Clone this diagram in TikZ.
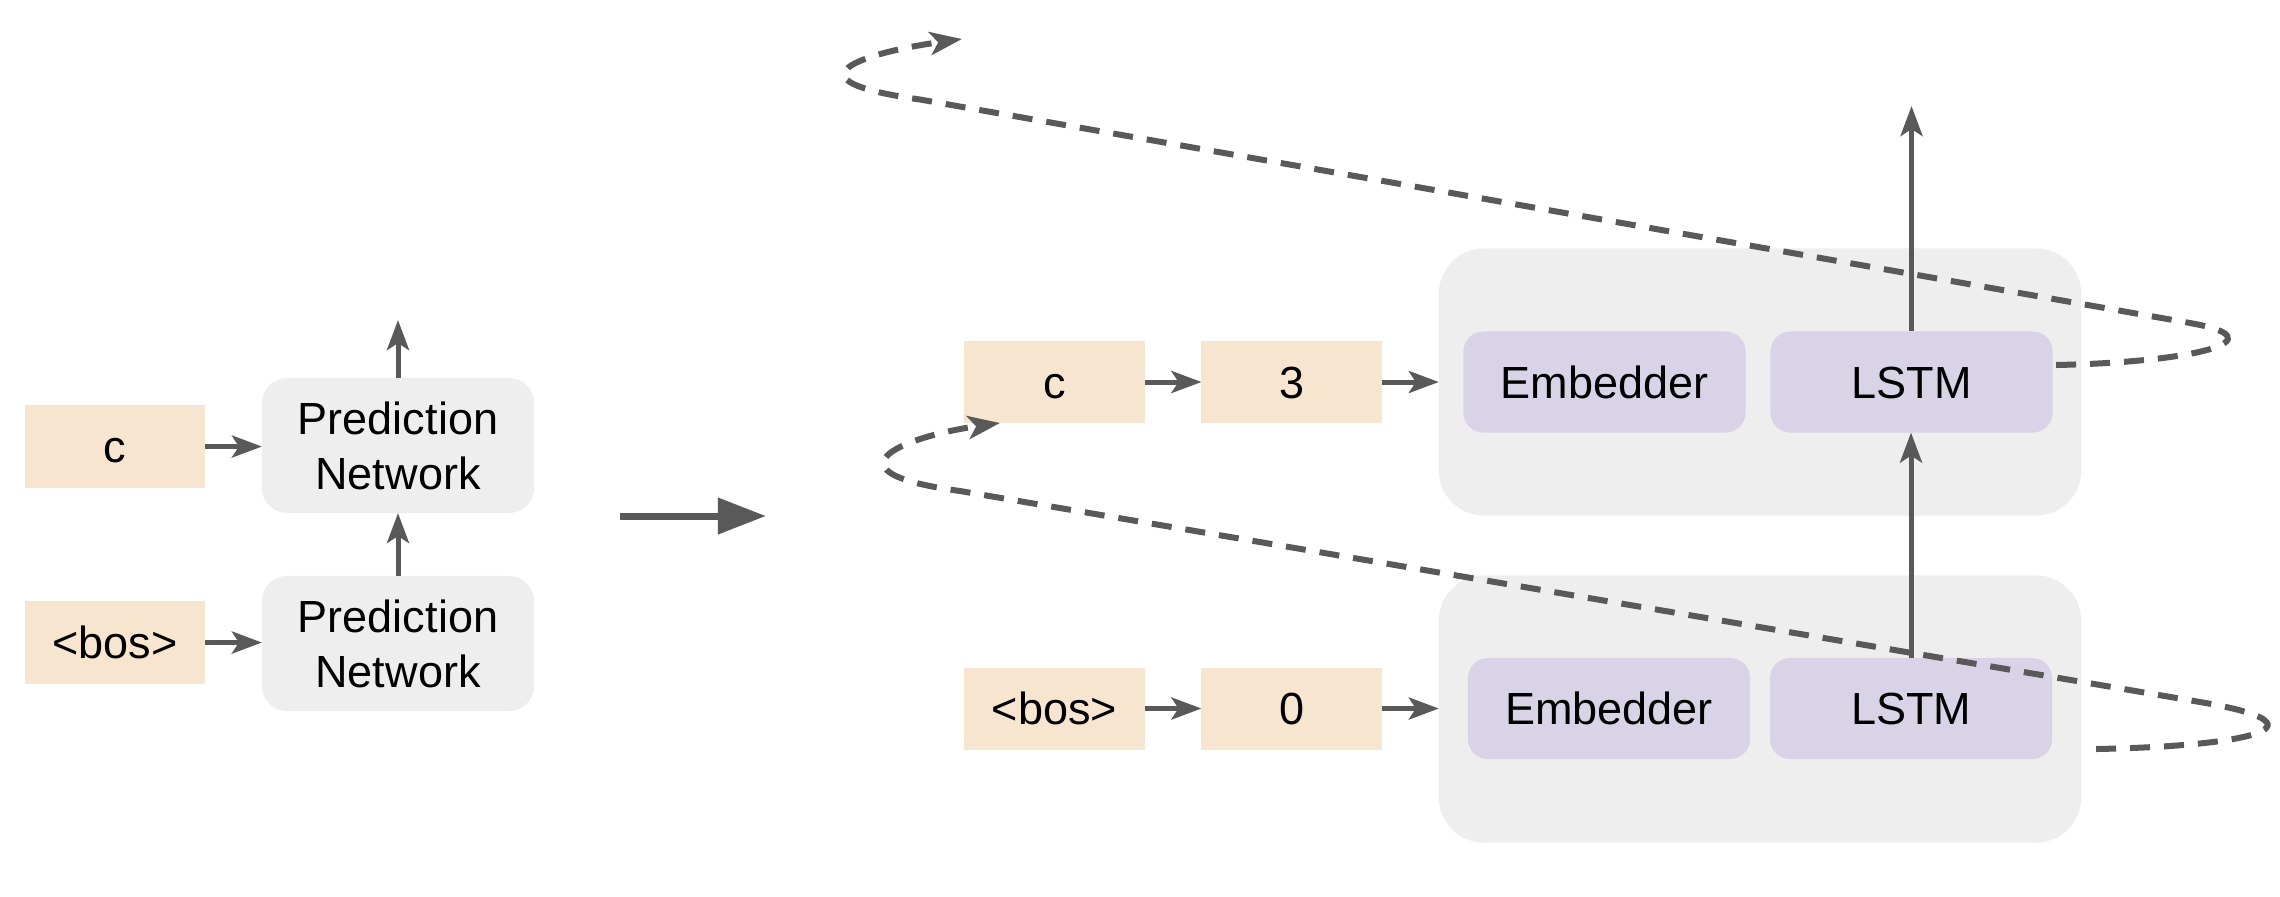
\documentclass[tikz,border=0pt]{standalone}
\usepackage{fontspec}
\setmainfont{Liberation Sans}
\usetikzlibrary{arrows.meta}
\definecolor{peach}{RGB}{248,229,208}
\definecolor{boxgray}{RGB}{238,238,238}
\definecolor{lilac}{RGB}{216,211,230}
\definecolor{linegray}{RGB}{89,89,89}
\newcommand{\twolines}[2]{\raisebox{-0.08cm}{\vbox{\baselineskip=0.55cm\lineskiplimit=-10cm\halign{\hfil##\hfil\cr#1\cr#2\cr}}}}
\begin{document}
\begin{tikzpicture}[x=0.01cm,y=-0.01cm,
 every node/.style={font=\fontsize{12.8}{15.7}\selectfont, inner sep=0pt, outer sep=0pt, text=black},
 token/.style={fill=peach, minimum width=1.8cm, minimum height=0.82cm, text height=0.32cm, text depth=0cm},
 pnbox/.style={fill=boxgray, rounded corners=0.25cm, minimum width=2.72cm, minimum height=1.35cm},
 container/.style={fill=boxgray, rounded corners=0.45cm, minimum width=6.42cm, minimum height=2.67cm},
 module/.style={fill=lilac, rounded corners=0.2cm, minimum width=2.82cm, minimum height=1.01cm, text height=0.32cm, text depth=0cm},
 conn/.style={draw=linegray, line width=0.05cm, -{Stealth[length=0.3cm,width=0.22cm,inset=0.07cm]}},
 loopline/.style={draw=linegray, line width=0.06cm, dash pattern=on 0.2cm off 0.14cm, -{Stealth[length=0.32cm,width=0.23cm,inset=0.08cm]}},
 bigarrow/.style={draw=linegray, line width=0.07cm, -{Triangle[length=0.48cm,width=0.35cm]}}]
\useasboundingbox (0,0) rectangle (2280,896);
% left part
\node[token] (lc) at (115,446.5) {c};
\node[token] (lbos) at (115,642.5) {<bos>};
\node[pnbox] (pn1) at (398,445.5) {\twolines{Prediction}{Network}};
\node[pnbox] (pn2) at (398,643.5) {\twolines{Prediction}{Network}};
\coordinate (pnout) at (398,320);
\draw[conn] (lc.east) -- (lc.east -| pn1.west);
\draw[conn] (lbos.east) -- (lbos.east -| pn2.west);
\draw[conn] (pn2) -- (pn1);
\draw[conn] (pn1) -- (pnout);
% big arrow
\coordinate (ba1) at (620,516);
\coordinate (ba2) at (766,516);
\draw[bigarrow] (ba1) -- (ba2);
% right part
\node[container] (cont1) at (1760,382) {};
\node[container] (cont2) at (1760,709) {};
\node[module] (emb1) at (1604.5,382) {Embedder};
\node[module] (lstm1) at (1911.5,382) {LSTM};
\node[module] (emb2) at (1609,708.5) {Embedder};
\node[module] (lstm2) at (1911,708.5) {LSTM};
\node[token] (rc) at (1054.5,382) {c};
\node[token] (r3) at (1291.5,382) {3};
\node[token] (rbos) at (1054.5,708.5) {<bos>};
\node[token] (r0) at (1291.5,708.5) {0};
\coordinate (lout) at (1911.5,106);
\draw[conn] (rc) -- (r3);
\draw[conn] (r3.east) -- (r3.east -| cont1.west);
\draw[conn] (rbos) -- (r0);
\draw[conn] (r0.east) -- (r0.east -| cont2.west);
\draw[conn] (lstm2.north) -- (lstm2.north |- lstm1.south);
\draw[conn] (lstm1) -- (lout);
% recurrent dashed loops
\coordinate (a0) at (2056,365);
\coordinate (a1) at (2190,323);
\coordinate (a2) at (920,99.5);
\coordinate (a3) at (962,39);
\draw[loopline] (a0) .. controls (2200,362) and (2280,339) .. (a1) -- (a2) .. controls (780,80) and (862,53) .. (a3);
\coordinate (b0) at (2096,749);
\coordinate (b1) at (2200,702);
\coordinate (b2) at (960,491);
\coordinate (b3) at (1000,423);
\draw[loopline] (b0) .. controls (2260,746) and (2330,724) .. (b1) -- (b2) .. controls (820,472) and (900,437) .. (b3);
\end{tikzpicture}
\end{document}
